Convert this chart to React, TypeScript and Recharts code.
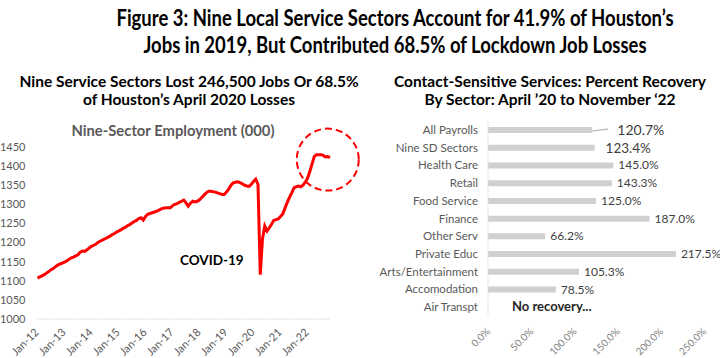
import {
  Bar,
  BarChart,
  LabelList,
  Line,
  LineChart,
  ReferenceDot,
  XAxis,
  YAxis,
} from 'recharts';

// monthly labels Jan-12 .. Nov-22
const MONTH_NAMES = ['Jan', 'Feb', 'Mar', 'Apr', 'May', 'Jun', 'Jul', 'Aug', 'Sep', 'Oct', 'Nov', 'Dec'];
const YEARS = ['12', '13', '14', '15', '16', '17', '18', '19', '20', '21', '22'];

// Nine-sector employment (000), by year
const emp2012 = [1107, 1110, 1113, 1116, 1120, 1124, 1129, 1132, 1137, 1141, 1144, 1146];
const emp2013 = [1149, 1152, 1156, 1160, 1162, 1165, 1168, 1175, 1178, 1177, 1181, 1186];
const emp2014 = [1190, 1193, 1196, 1201, 1204, 1207, 1210, 1213, 1216, 1220, 1223, 1227];
const emp2015 = [1230, 1233, 1237, 1240, 1244, 1247, 1251, 1255, 1258, 1263, 1265, 1259];
const emp2016 = [1268, 1274, 1276, 1278, 1280, 1282, 1285, 1288, 1290, 1291, 1291, 1291];
const emp2017 = [1296, 1300, 1302, 1305, 1308, 1311, 1304, 1295, 1303, 1308, 1306, 1308];
const emp2018 = [1312, 1318, 1324, 1330, 1334, 1334, 1333, 1332, 1330, 1328, 1326, 1326];
const emp2019 = [1332, 1340, 1350, 1356, 1358, 1359, 1357, 1354, 1350, 1348, 1347, 1352];
const emp2020 = [1360, 1366, 1352, 1116, 1210, 1243, 1230, 1238, 1248, 1258, 1260, 1262];
const emp2021 = [1268, 1275, 1290, 1305, 1318, 1330, 1343, 1346, 1348, 1346, 1350, 1358];
const emp2022 = [1368, 1385, 1405, 1425, 1430, 1430, 1430, 1428, 1424, 1425, 1422];

const employment = [
  ...emp2012, ...emp2013, ...emp2014, ...emp2015, ...emp2016, ...emp2017,
  ...emp2018, ...emp2019, ...emp2020, ...emp2021, ...emp2022,
];

const yearTicks = YEARS.map((y) => `Jan-${y}`);
const empTicks = [1000, 1050, 1100, 1150, 1200, 1250, 1300, 1350, 1400, 1450];

const lineData = employment.map((value, i) => ({
  month: `${MONTH_NAMES[i % 12]}-${YEARS[Math.floor(i / 12)]}`,
  value,
}));

// recovery by sector
const sectors = [
  'All Payrolls',
  'Nine SD Sectors',
  'Health Care',
  'Retail',
  'Food Service',
  'Finance',
  'Other Serv',
  'Private Educ',
  'Arts/Entertainment',
  'Accomodation',
  'Air Transpt',
];
const recovery = [120.7, 123.4, 145.0, 143.3, 125.0, 187.0, 66.2, 217.5, 105.3, 78.5, 0];
const pctTicks = [0, 50, 100, 150, 200, 250];

const barData = sectors.map((sector, i) => ({ sector, value: recovery[i] }));

const FONT = 'Lato, "Open Sans", sans-serif';
const GRAY = '#595959';

const DateTick = (props: any) => {
  const { x, y, payload } = props;
  return (
    <text
      x={x + 2}
      y={y + 6}
      textAnchor="end"
      fontSize={11}
      fill={GRAY}
      fontFamily={FONT}
      transform={`rotate(-45 ${x + 2} ${y + 6})`}
    >
      {payload.value}
    </text>
  );
};

const PctTick = (props: any) => {
  const { x, y, payload } = props;
  return (
    <text
      x={x + 3}
      y={y + 8}
      textAnchor="end"
      fontSize={10}
      fill="#7f7f7f"
      fontFamily={FONT}
      transform={`rotate(-45 ${x + 3} ${y + 8})`}
    >
      {`${payload.value.toFixed(1)}%`}
    </text>
  );
};

const RecoveryLabel = (props: any) => {
  const { x, y, width, height, value, index } = props;
  if (!value) return null;
  const cy = y + height / 2;
  const end = x + width;
  const text = `${value.toFixed(1)}%`;
  if (index === 0) {
    return (
      <g>
        <line x1={end} y1={cy + 1} x2={end + 16} y2={cy - 1} stroke="#a6a6a6" strokeWidth={1} />
        <text x={end + 25} y={cy + 5} fontSize={14} fill="#404040" fontFamily={FONT}>
          {text}
        </text>
      </g>
    );
  }
  if (index === 1) {
    return (
      <text x={end + 11} y={cy + 5} fontSize={13.5} fill="#404040" fontFamily={FONT}>
        {text}
      </text>
    );
  }
  return (
    <text x={end + 5} y={cy + 4} fontSize={12} fill="#404040" fontFamily={FONT}>
      {text}
    </text>
  );
};

const abs = (left: number, top: number, extra: any = {}) => ({
  position: 'absolute' as const,
  left,
  top,
  ...extra,
});

export default function App() {
  return (
    <div
      style={{
        position: 'absolute',
        left: 0,
        top: 0,
        width: 720,
        height: 358,
        background: '#fff',
        fontFamily: FONT,
        overflow: 'hidden',
      }}
    >
      <div
        style={abs(0, 4, {
          width: 790,
          textAlign: 'center',
          fontSize: 22,
          fontWeight: 700,
          lineHeight: '27px',
          color: '#000',
          whiteSpace: 'nowrap',
          transform: 'scaleX(0.84)',
          transformOrigin: '395px 0',
        })}
      >
        Figure 3: Nine Local Service Sectors Account for 41.9% of Houston’s
        <br />
        Jobs in 2019, But Contributed 68.5% of Lockdown Job Losses
      </div>

      <div
        style={abs(0, 72, {
          width: 378,
          textAlign: 'center',
          fontSize: 15.5,
          fontWeight: 700,
          lineHeight: '18px',
          color: '#000',
          whiteSpace: 'nowrap',
        })}
      >
        Nine Service Sectors Lost 246,500 Jobs Or 68.5%
        <br />
        of Houston’s April 2020 Losses
      </div>

      <div
        style={abs(360, 72, {
          width: 380,
          textAlign: 'center',
          fontSize: 15.5,
          fontWeight: 700,
          lineHeight: '18px',
          color: '#000',
          whiteSpace: 'nowrap',
        })}
      >
        Contact-Sensitive Services: Percent Recovery
        <br />
        By Sector: April ’20 to November ‘22
      </div>

      <div
        style={abs(0, 121, {
          width: 346,
          textAlign: 'center',
          fontSize: 14.8,
          fontWeight: 700,
          color: GRAY,
        })}
      >
        Nine-Sector Employment (000)
      </div>

      <div style={abs(0, 0)}>
        <LineChart
          width={360}
          height={358}
          data={lineData}
          margin={{ top: 147, right: 30, bottom: 0, left: 0 }}
        >
          <XAxis
            dataKey="month"
            ticks={yearTicks}
            interval={0}
            height={39}
            tick={<DateTick />}
            tickLine={false}
            axisLine={{ stroke: '#d9d9d9', strokeDasharray: '2 1' }}
          />
          <YAxis
            domain={[1000, 1450]}
            ticks={empTicks}
            width={37.5}
            tickLine={false}
            axisLine={false}
            tickSize={0}
            tickMargin={12}
            tick={{ fontSize: 11, fill: GRAY, fontFamily: FONT }}
          />
          <Line
            type="linear"
            dataKey="value"
            stroke="#ff0000"
            strokeWidth={3}
            dot={false}
            isAnimationActive={false}
          />
          <ReferenceDot
            x="Oct-22"
            y={1417}
            r={31}
            fill="none"
            stroke="#ff0000"
            strokeWidth={2}
            strokeDasharray="7 4"
            ifOverflow="visible"
          />
        </LineChart>
      </div>

      <div
        style={abs(180, 252, {
          fontSize: 13.5,
          fontWeight: 700,
          color: '#000',
        })}
      >
        COVID-19
      </div>

      <div style={abs(360, 0)}>
        <BarChart
          layout="vertical"
          width={360}
          height={358}
          data={barData}
          margin={{ top: 121, right: 16, bottom: 0, left: 0 }}
        >
          <XAxis
            type="number"
            domain={[0, 250]}
            ticks={pctTicks}
            height={42}
            tick={<PctTick />}
            tickLine={false}
            axisLine={false}
          />
          <YAxis
            type="category"
            dataKey="sector"
            width={128}
            interval={0}
            tickLine={false}
            tickSize={0}
            tickMargin={10}
            axisLine={{ stroke: '#d9d9d9', strokeDasharray: '2 1' }}
            tick={{ fontSize: 11.5, fill: GRAY, fontFamily: FONT }}
          />
          <Bar dataKey="value" fill="#d0d0d0" barSize={6} isAnimationActive={false}>
            <LabelList dataKey="value" content={<RecoveryLabel />} />
          </Bar>
        </BarChart>
      </div>

      <div
        style={abs(512, 298, {
          fontSize: 13,
          fontWeight: 700,
          color: '#262626',
        })}
      >
        No recovery...
      </div>
    </div>
  );
}
